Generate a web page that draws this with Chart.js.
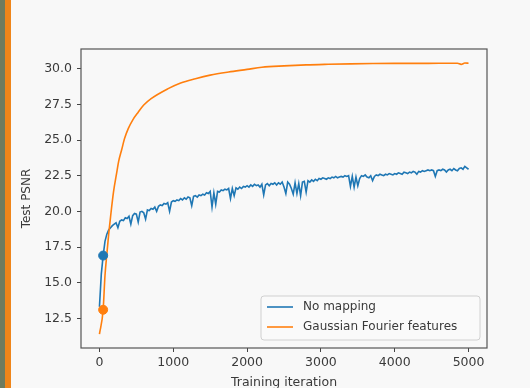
<!DOCTYPE html>
<html>
<head>
<meta charset="utf-8">
<script src="https://cdn.jsdelivr.net/npm/chart.js@4.4.0/dist/chart.umd.min.js"></script>
<style>
  html, body { margin: 0; padding: 0; background: #f8f8f8; }
  #wrap { position: relative; width: 530px; height: 388px; overflow: hidden; }
  #psnrChart { position: absolute; left: 0; top: 0; }
  /* edge of the video frame at the left */
  #edge { position: absolute; left: 0; top: 0; width: 5px; height: 388px; background: #6f7b5e; border-right: 6px solid #ef8519; }
</style>
</head>
<body>
<div id="wrap">
  <canvas id="psnrChart" width="530" height="388"></canvas>
  <div id="edge"></div>
</div>
<script>
// No mapping run, one value every 25 iterations
const iterNoMap = [0, 25, 50, 75, 100, 125, 150, 175, 200, 225,
  250, 275, 300, 325, 350, 375, 400, 425, 450, 475,
  500, 525, 550, 575, 600, 625, 650, 675, 700, 725,
  750, 775, 800, 825, 850, 875, 900, 925, 950, 975,
  1000, 1025, 1050, 1075, 1100, 1125, 1150, 1175, 1200, 1225,
  1250, 1275, 1300, 1325, 1350, 1375, 1400, 1425, 1450, 1475,
  1500, 1525, 1550, 1575, 1600, 1625, 1650, 1675, 1700, 1725,
  1750, 1775, 1800, 1825, 1850, 1875, 1900, 1925, 1950, 1975,
  2000, 2025, 2050, 2075, 2100, 2125, 2150, 2175, 2200, 2225,
  2250, 2275, 2300, 2325, 2350, 2375, 2400, 2425, 2450, 2475,
  2500, 2525, 2550, 2575, 2600, 2625, 2650, 2675, 2700, 2725,
  2750, 2775, 2800, 2825, 2850, 2875, 2900, 2925, 2950, 2975,
  3000, 3025, 3050, 3075, 3100, 3125, 3150, 3175, 3200, 3225,
  3250, 3275, 3300, 3325, 3350, 3375, 3400, 3425, 3450, 3475,
  3500, 3525, 3550, 3575, 3600, 3625, 3650, 3675, 3700, 3725,
  3750, 3775, 3800, 3825, 3850, 3875, 3900, 3925, 3950, 3975,
  4000, 4025, 4050, 4075, 4100, 4125, 4150, 4175, 4200, 4225,
  4250, 4275, 4300, 4325, 4350, 4375, 4400, 4425, 4450, 4475,
  4500, 4525, 4550, 4575, 4600, 4625, 4650, 4675, 4700, 4725,
  4750, 4775, 4800, 4825, 4850, 4875, 4900, 4925, 4950, 4975,
  5000];
const psnrNoMap = [13.3, 15.6, 16.9, 17.9, 18.4, 18.7, 18.85, 19.0, 19.1, 19.2,
  18.85, 19.3, 19.4, 19.35, 19.55, 19.5, 19.65, 19.1, 19.7, 19.85,
  19.8, 19.25, 19.95, 20.0, 19.9, 19.45, 20.1, 20.05, 20.2, 20.15,
  20.3, 20.0, 20.35, 20.45, 20.4, 20.55, 20.5, 20.6, 20.0, 20.65,
  20.75, 20.7, 20.8, 20.75, 20.9, 20.8, 20.95, 20.85, 21.0, 20.95,
  20.4, 21.05, 21.1, 21.0, 21.15, 21.1, 21.2, 21.15, 21.3, 21.25,
  21.4, 20.3, 21.3, 20.5, 21.4, 21.35, 21.5, 21.45, 21.55, 21.5,
  21.6, 20.9, 21.6, 21.1, 21.65, 21.55, 21.7, 21.6, 21.75, 21.7,
  21.8, 21.7, 21.85, 21.75, 21.9, 21.8, 21.85, 21.7, 21.9, 21.15,
  21.85, 21.95, 21.8, 21.95, 21.9, 22.0, 21.85, 22.0, 21.9, 22.05,
  21.7, 21.25, 22.05, 21.9, 21.6, 21.2, 22.0, 21.25, 21.95, 21.1,
  22.05, 22.1, 21.35, 22.15, 22.05, 22.2, 22.1, 22.25, 22.15, 22.3,
  22.25, 22.35, 22.3, 22.25, 22.35, 22.3, 22.4, 22.35, 22.45, 22.35,
  22.4, 22.45, 22.4, 22.5, 22.45, 22.5, 21.75, 22.45, 21.7, 22.4,
  21.8, 22.3, 22.5, 22.45, 22.55, 22.4, 22.35, 22.5, 22.15, 22.45,
  22.55, 22.5, 22.6, 22.55, 22.5, 22.6, 22.55, 22.65, 22.6, 22.55,
  22.65, 22.6, 22.7, 22.65, 22.6, 22.75, 22.7, 22.65, 22.75, 22.7,
  22.8, 22.75, 22.6, 22.8, 22.75, 22.85, 22.8, 22.85, 22.9, 22.85,
  22.9, 22.85, 22.45, 22.85, 22.9, 22.85, 22.95, 22.9, 22.75, 22.9,
  22.95, 22.85, 23.0, 22.9, 22.85, 23.0, 23.05, 22.95, 23.15, 23.05,
  22.95];

// Gaussian Fourier features run (smooth, so fewer points)
const iterGauss = [0, 50, 75, 100, 125, 150, 190, 235, 260, 300, 340, 390, 450, 525, 600, 700, 930, 1100, 1300,
  1500, 1750, 2000, 2200, 2500, 2800, 3100, 3400, 3700, 4000, 4300, 4600, 4850, 4900, 4950, 5000];
const psnrGauss = [11.4, 13.1, 15.5, 17.0, 18.4, 19.6, 21.35, 22.75, 23.5, 24.3, 25.1, 25.8, 26.4, 26.95, 27.45, 27.9, 28.6, 29.0, 29.3,
  29.55, 29.77, 29.95, 30.1, 30.2, 30.27, 30.31, 30.34, 30.36, 30.37, 30.37, 30.38, 30.38, 30.3, 30.4, 30.38];

// current-iteration markers
const markerIter = [50];
const markerNoMap = [16.9];
const markerGauss = [13.1];

const xTicks = [0, 1000, 2000, 3000, 4000, 5000];
const yTicks = [12.5, 15.0, 17.5, 20.0, 22.5, 25.0, 27.5, 30.0];

const BLUE = '#1f77b4';
const ORANGE = '#ff7f0e';
const TXT = '#3a3a3a';

function pts(xs, ys) {
    return xs.map((x, i) => ({x: x, y: ys[i]}));
}

// matplotlib style box + legend in the lower right corner
const frameLegend = {
    id: 'frameLegend',
    afterDatasetsDraw(chart) {
        const {ctx, chartArea: a} = chart;
        ctx.save();
        ctx.strokeStyle = '#555555';
        ctx.lineWidth = 1.2;
        ctx.strokeRect(a.left, a.top, a.right - a.left, a.bottom - a.top);

        const bw = 219, bh = 44;
        const bx = a.right - 7 - bw, by = a.bottom - 8 - bh;
        ctx.fillStyle = 'rgba(250,250,250,0.85)';
        ctx.strokeStyle = '#d0d0d0';
        ctx.lineWidth = 1;
        ctx.beginPath();
        ctx.roundRect(bx, by, bw, bh, 3);
        ctx.fill();
        ctx.stroke();

        const items = chart.data.datasets.filter(d => !d.hideInLegend);
        ctx.font = '12px "DejaVu Sans"';
        ctx.textBaseline = 'middle';
        items.forEach((d, i) => {
            const ly = by + 11 + i * 20;
            ctx.strokeStyle = d.borderColor;
            ctx.lineWidth = 1.6;
            ctx.beginPath();
            ctx.moveTo(bx + 6, ly);
            ctx.lineTo(bx + 32, ly);
            ctx.stroke();
            ctx.fillStyle = TXT;
            ctx.fillText(d.label, bx + 42, ly);
        });
        ctx.restore();
    }
};

Chart.defaults.font.family = '"DejaVu Sans", sans-serif';
Chart.defaults.color = TXT;

new Chart(document.getElementById('psnrChart'), {
    type: 'line',
    data: {
        datasets: [
            {label: 'No mapping', data: pts(iterNoMap, psnrNoMap), borderColor: BLUE, borderWidth: 1.6, pointRadius: 0, order: 3},
            {label: 'Gaussian Fourier features', data: pts(iterGauss, psnrGauss), borderColor: ORANGE, borderWidth: 1.6, pointRadius: 0, cubicInterpolationMode: 'monotone', order: 2},
            {label: 'now1', hideInLegend: true, data: pts(markerIter, markerNoMap), showLine: false, pointRadius: 4.5, backgroundColor: BLUE, borderColor: BLUE, order: 1},
            {label: 'now2', hideInLegend: true, data: pts(markerIter, markerGauss), showLine: false, pointRadius: 4.5, backgroundColor: ORANGE, borderColor: ORANGE, order: 1}
        ]
    },
    options: {
        responsive: false,
        animation: false,
        devicePixelRatio: 1,
        layout: {padding: {left: 0, top: 49, right: 43, bottom: 0}},
        plugins: {legend: {display: false}, tooltip: {enabled: false}},
        elements: {line: {tension: 0}},
        scales: {
            x: {
                type: 'linear',
                min: -250,
                max: 5250,
                afterBuildTicks: s => { s.ticks = xTicks.map(v => ({value: v})); },
                afterFit: s => { s.height = 40; },
                border: {display: false},
                grid: {drawOnChartArea: false, drawTicks: true, tickLength: 4, color: '#444444'},
                ticks: {font: {size: 12.5}, padding: 3, maxRotation: 0, callback: v => String(v)},
                title: {display: true, text: 'Training iteration', font: {size: 12.5, lineHeight: 1.1}, padding: {top: 0, bottom: -2}}
            },
            y: {
                min: 10.42,
                max: 31.38,
                afterBuildTicks: s => { s.ticks = yTicks.map(v => ({value: v})); },
                afterFit: s => { s.width = 81; },
                border: {display: false},
                grid: {drawOnChartArea: false, drawTicks: true, tickLength: 4, color: '#444444'},
                ticks: {font: {size: 12.5}, padding: 5, callback: v => v.toFixed(1)},
                title: {display: true, text: 'Test PSNR', font: {size: 12}, padding: {top: 20, bottom: 0}}
            }
        }
    },
    plugins: [frameLegend]
});
</script>
</body>
</html>
